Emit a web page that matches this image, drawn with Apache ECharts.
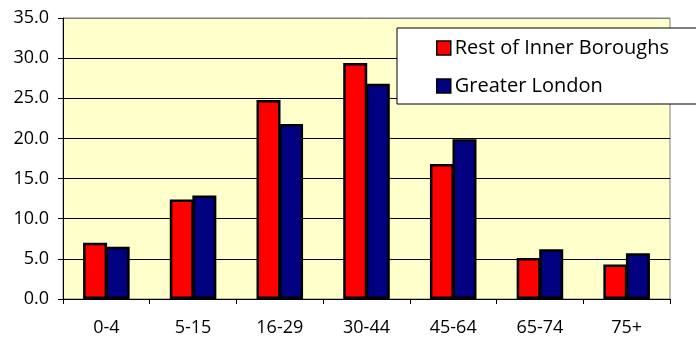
<!DOCTYPE html>
<html>
<head>
<meta charset="utf-8">
<script src="https://cdn.jsdelivr.net/npm/echarts@6/dist/echarts.min.js"></script>
<style>html,body{margin:0;padding:0;background:#fff;}#c{width:696px;height:338px;}</style>
</head>
<body>
<div id="c"></div>
<script>
const categories = ['0-4', '5-15', '16-29', '30-44', '45-64', '65-74', '75+'];
const restOfInner = [7.0, 12.4, 24.8, 29.4, 16.8, 5.1, 4.3];
const greaterLondon = [6.5, 12.9, 21.8, 26.8, 19.9, 6.2, 5.7];
const seriesNames = ['Rest of Inner Boroughs', 'Greater London'];

const FONT = 'Open Sans';
const chart = echarts.init(document.getElementById('c'), null, {renderer: 'canvas'});
chart.setOption({
  animation: false,
  textStyle: {fontFamily: FONT},
  grid: {left: 63, right: 26, top: 18, bottom: 39, show: true, backgroundColor: '#FFFFCC', borderColor: '#808080', borderWidth: 1},
  legend: {
    data: seriesNames,
    orient: 'vertical',
    left: 397, top: 28,
    padding: [10, 60, 8, 39],
    itemGap: 18,
    itemWidth: 14, itemHeight: 14,
    icon: 'rect',
    itemStyle: {borderColor: '#000', borderWidth: 1.5},
    backgroundColor: '#FFFFFF',
    borderColor: '#000000', borderWidth: 1,
    textStyle: {fontFamily: FONT, fontSize: 20, color: '#000', padding: [0, 0, 0, -1]}
  },
  xAxis: {
    type: 'category',
    data: categories,
    axisLine: {lineStyle: {color: '#000', width: 1}},
    axisTick: {show: true, length: 5, lineStyle: {color: '#000'}},
    axisLabel: {color: '#000', fontSize: 18, fontFamily: FONT, margin: 20}
  },
  yAxis: {
    type: 'value',
    min: 0, max: 35, interval: 5,
    axisLine: {show: true, lineStyle: {color: '#000', width: 1}},
    axisTick: {show: true, length: 5, lineStyle: {color: '#000'}},
    axisLabel: {color: '#000', fontSize: 18, fontFamily: FONT, margin: 14, formatter: v => v.toFixed(1)},
    splitLine: {show: true, lineStyle: {color: ['#000', '#000', '#000', '#000', '#000', '#000', '#000', '#808080'], width: 1}}
  },
  series: [
    {name: seriesNames[0], type: 'bar', data: restOfInner, barWidth: 24, barGap: '-6%',
     itemStyle: {color: '#FF0000', borderColor: '#000', borderWidth: 2.5}},
    {name: seriesNames[1], type: 'bar', data: greaterLondon, barWidth: 24, barGap: '-6%',
     itemStyle: {color: '#000080', borderColor: '#000', borderWidth: 2.5}}
  ]
});
</script>
</body>
</html>
